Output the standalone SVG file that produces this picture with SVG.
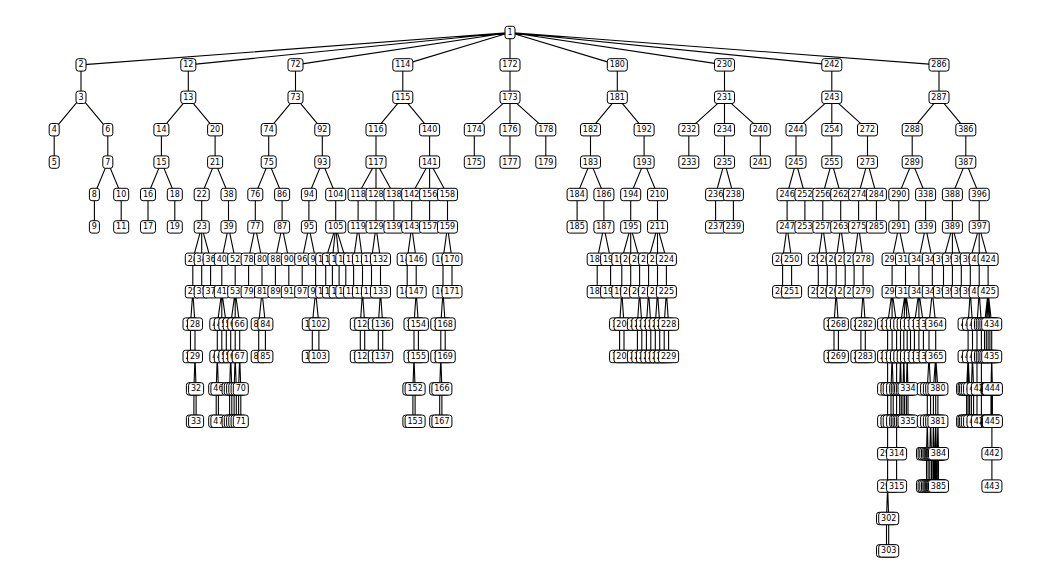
<svg xmlns="http://www.w3.org/2000/svg" width="1046" height="585" viewBox="0 0 1046 585">
<style>
.bx{fill:#fff;stroke:#000;stroke-width:1}
text{font-family:"DejaVu Sans","Liberation Sans",sans-serif;font-size:8px;text-anchor:middle;dominant-baseline:central;fill:#000}
#edges path{fill:none;stroke:#000;stroke-width:1.1}
</style>
<defs>
<rect id="a" class="bx" x="-5" y="-6.2" width="10" height="12.4" rx="2.5"/>
<rect id="b" class="bx" x="-7.5" y="-6.2" width="15" height="12.4" rx="2.5"/>
<rect id="c" class="bx" x="-10" y="-6.2" width="20" height="12.4" rx="2.5"/>
</defs>
<rect width="1046" height="585" fill="#fff"/>
<g id="edges">
<path d="M510 32.5L81 64.9M510 32.5L188.3 64.9M510 32.5L295.5 64.9M510 32.5L402.8 64.9M510 32.5L510 64.9M510 32.5L617.3 64.9M510 32.5L724.5 64.9M510 32.5L831.8 64.9M510 32.5L939 64.9
M81 64.9V97.3M188.3 64.9V97.3M295.5 64.9V97.3M402.8 64.9V97.3M510 64.9V97.3M617.3 64.9V97.3M724.5 64.9V97.3M831.8 64.9V97.3M939 64.9V97.3
M54.2 129.7V162.1M107.8 129.7V162.1M161.4 129.7V162.1M215.1 129.7V162.1M268.7 129.7V162.1M322.3 129.7V162.1M376 129.7V162.1M429.6 129.7V162.1M474.3 129.7V162.1M510 129.7V162.1M545.8 129.7V162.1M590.5 129.7V162.1M644.1 129.7V162.1M688.8 129.7V162.1M724.5 129.7V162.1M760.3 129.7V162.1M796 129.7V162.1M831.8 129.7V162.1M867.5 129.7V162.1M912.2 129.7V162.1M965.8 129.7V162.1
M94.4 194.5V226.9M121.2 194.5V226.9M148 194.5V226.9M174.8 194.5V226.9M201.7 194.5V226.9M228.5 194.5V226.9M255.3 194.5V226.9M282.1 194.5V226.9M308.9 194.5V226.9M335.7 194.5V226.9M358.1 194.5V226.9M376 194.5V226.9M393.9 194.5V226.9M411.7 194.5V226.9M429.6 194.5V226.9M447.5 194.5V226.9M577.1 194.5V226.9M603.9 194.5V226.9M630.7 194.5V226.9M657.5 194.5V226.9M715.6 194.5V226.9M733.4 194.5V226.9M787.1 194.5V226.9M804.9 194.5V226.9M822.8 194.5V226.9M840.7 194.5V226.9M858.6 194.5V226.9M876.4 194.5V226.9M898.8 194.5V226.9M925.6 194.5V226.9M952.4 194.5V226.9M979.2 194.5V226.9
M192.8 259.3V291.7M201.7 259.3V291.7M210.6 259.3V291.7M221.8 259.3V291.7M235.2 259.3V291.7M248.6 259.3V291.7M262 259.3V291.7M275.4 259.3V291.7M288.8 259.3V291.7M302.2 259.3V291.7M315.6 259.3V291.7M325.7 259.3V291.7M332.4 259.3V291.7M339.1 259.3V291.7M345.8 259.3V291.7M353.6 259.3V291.7M362.5 259.3V291.7M371.5 259.3V291.7M380.5 259.3V291.7M407.2 259.3V291.7M416.2 259.3V291.7M443 259.3V291.7M452 259.3V291.7M597.2 259.3V291.7M610.6 259.3V291.7M621.8 259.3V291.7M630.7 259.3V291.7M639.6 259.3V291.7M648.6 259.3V291.7M657.5 259.3V291.7M666.4 259.3V291.7M782.6 259.3V291.7M791.6 259.3V291.7M818.3 259.3V291.7M827.3 259.3V291.7M836.2 259.3V291.7M845.2 259.3V291.7M854.1 259.3V291.7M863.1 259.3V291.7M892.1 259.3V291.7M905.5 259.3V291.7M918.9 259.3V291.7M932.3 259.3V291.7M943.5 259.3V291.7M952.4 259.3V291.7M961.3 259.3V291.7M970.3 259.3V291.7M979.2 259.3V291.7M988.1 259.3V291.7
M190.5 324.1V356.5M195 324.1V356.5M217.3 324.1V356.5M221.8 324.1V356.5M226.3 324.1V356.5M230.7 324.1V356.5M235.2 324.1V356.5M239.7 324.1V356.5M258.7 324.1V356.5M265.4 324.1V356.5M312.3 324.1V356.5M318.9 324.1V356.5M360.3 324.1V356.5M364.7 324.1V356.5M378.3 324.1V356.5M382.7 324.1V356.5M414 324.1V356.5M418.4 324.1V356.5M440.8 324.1V356.5M445.2 324.1V356.5M619.6 324.1V356.5M624 324.1V356.5M637.4 324.1V356.5M641.8 324.1V356.5M646.4 324.1V356.5M650.8 324.1V356.5M655.3 324.1V356.5M659.7 324.1V356.5M664.2 324.1V356.5M668.6 324.1V356.5M834 324.1V356.5M838.4 324.1V356.5M860.9 324.1V356.5M865.3 324.1V356.5M887.6 324.1V356.5M892.1 324.1V356.5M896.6 324.1V356.5M900.5 324.1V356.5M903.8 324.1V356.5M907.2 324.1V356.5M910.5 324.1V356.5M914.4 324.1V356.5M918.9 324.1V356.5M923.4 324.1V356.5M929 324.1V356.5M935.7 324.1V356.5M968.1 324.1V356.5M972.5 324.1V356.5M977 324.1V356.5M981.4 324.1V356.5M984.5 324.1V356.5M986.3 324.1V356.5M988.1 324.1V356.5M989.9 324.1V356.5M991.7 324.1V356.5
M193.9 388.9V421.3M196.1 388.9V421.3M216.2 388.9V421.3M218.4 388.9V421.3M229.6 388.9V421.3M231.8 388.9V421.3M234.1 388.9V421.3M236.3 388.9V421.3M238.6 388.9V421.3M240.8 388.9V421.3M412.9 388.9V421.3M415.1 388.9V421.3M439.7 388.9V421.3M441.9 388.9V421.3M887.6 388.9V421.3M891 388.9V421.3M893.2 388.9V421.3M896.6 388.9V421.3M899.7 388.9V421.3M901.3 388.9V421.3M903 388.9V421.3M904.6 388.9V421.3M906.4 388.9V421.3M908 388.9V421.3M927.3 388.9V421.3M930.6 388.9V421.3M933.4 388.9V421.3M935.7 388.9V421.3M937.9 388.9V421.3M966.6 388.9V421.3M968.1 388.9V421.3M969.6 388.9V421.3M971.4 388.9V421.3M973.6 388.9V421.3M977 388.9V421.3M981.4 388.9V421.3M991 388.9V421.3M991.5 388.9V421.3M991.9 388.9V421.3M992.4 388.9V421.3
M887.6 453.7V486.1M896.6 453.7V486.1M926.5 453.7V486.1M928.1 453.7V486.1M929.8 453.7V486.1M931.5 453.7V486.1M932.9 453.7V486.1M934 453.7V486.1M934.9 453.7V486.1M935.7 453.7V486.1M936.4 453.7V486.1M937.3 453.7V486.1M938.5 453.7V486.1M991.9 453.7V486.1
M886.5 518.5V550.9M888.7 518.5V550.9
M81 97.3L54.2 129.7M81 97.3L107.8 129.7M107.8 162.1L94.4 194.5M107.8 162.1L121.2 194.5
M188.3 97.3L161.4 129.7M188.3 97.3L215.1 129.7M161.4 162.1L148 194.5M161.4 162.1L174.8 194.5M215.1 162.1L201.7 194.5M215.1 162.1L228.5 194.5
M201.7 226.9L192.8 259.3M201.7 226.9L201.7 259.3M201.7 226.9L210.6 259.3M192.8 291.7L190.5 324.1M192.8 291.7L195 324.1M195 356.5L193.9 388.9M195 356.5L196.1 388.9
M228.5 226.9L221.8 259.3M228.5 226.9L235.2 259.3M221.8 291.7L217.3 324.1M221.8 291.7L221.8 324.1M221.8 291.7L226.3 324.1M217.3 356.5L216.2 388.9M217.3 356.5L218.4 388.9
M235.2 291.7L230.7 324.1M235.2 291.7L235.2 324.1M235.2 291.7L239.7 324.1M230.7 356.5L229.6 388.9M230.7 356.5L231.8 388.9M235.2 356.5L234.1 388.9M235.2 356.5L236.3 388.9M239.7 356.5L238.6 388.9M239.7 356.5L240.8 388.9
M295.5 97.3L268.7 129.7M295.5 97.3L322.3 129.7M268.7 162.1L255.3 194.5M268.7 162.1L282.1 194.5M255.3 226.9L248.6 259.3M255.3 226.9L262 259.3M262 291.7L258.7 324.1M262 291.7L265.4 324.1M282.1 226.9L275.4 259.3M282.1 226.9L288.8 259.3
M322.3 162.1L308.9 194.5M322.3 162.1L335.7 194.5M308.9 226.9L302.2 259.3M308.9 226.9L315.6 259.3M315.6 291.7L312.3 324.1M315.6 291.7L318.9 324.1M335.7 226.9L325.7 259.3M335.7 226.9L332.4 259.3M335.7 226.9L339.1 259.3M335.7 226.9L345.8 259.3
M402.8 97.3L376 129.7M402.8 97.3L429.6 129.7M376 162.1L358.1 194.5M376 162.1L376 194.5M376 162.1L393.9 194.5M358.1 226.9L353.6 259.3M358.1 226.9L362.5 259.3M362.5 291.7L360.3 324.1M362.5 291.7L364.7 324.1M376 226.9L371.5 259.3M376 226.9L380.5 259.3M380.5 291.7L378.3 324.1M380.5 291.7L382.7 324.1
M429.6 162.1L411.7 194.5M429.6 162.1L429.6 194.5M429.6 162.1L447.5 194.5M411.7 226.9L407.2 259.3M411.7 226.9L416.2 259.3M416.2 291.7L414 324.1M416.2 291.7L418.4 324.1M414 356.5L412.9 388.9M414 356.5L415.1 388.9M447.5 226.9L443 259.3M447.5 226.9L452 259.3M443 291.7L440.8 324.1M443 291.7L445.2 324.1M440.8 356.5L439.7 388.9M440.8 356.5L441.9 388.9
M510 97.3L474.3 129.7M510 97.3L510 129.7M510 97.3L545.8 129.7
M617.3 97.3L590.5 129.7M617.3 97.3L644.1 129.7M590.5 162.1L577.1 194.5M590.5 162.1L603.9 194.5M603.9 226.9L597.2 259.3M603.9 226.9L610.6 259.3M644.1 162.1L630.7 194.5M644.1 162.1L657.5 194.5
M630.7 226.9L621.8 259.3M630.7 226.9L630.7 259.3M630.7 226.9L639.6 259.3M621.8 291.7L619.6 324.1M621.8 291.7L624 324.1M639.6 291.7L637.4 324.1M639.6 291.7L641.8 324.1
M657.5 226.9L648.6 259.3M657.5 226.9L657.5 259.3M657.5 226.9L666.4 259.3M648.6 291.7L646.4 324.1M648.6 291.7L650.8 324.1M657.5 291.7L655.3 324.1M657.5 291.7L659.7 324.1M666.4 291.7L664.2 324.1M666.4 291.7L668.6 324.1
M724.5 97.3L688.8 129.7M724.5 97.3L724.5 129.7M724.5 97.3L760.3 129.7M724.5 162.1L715.6 194.5M724.5 162.1L733.4 194.5
M831.8 97.3L796 129.7M831.8 97.3L831.8 129.7M831.8 97.3L867.5 129.7M796 162.1L787.1 194.5M796 162.1L804.9 194.5M787.1 226.9L782.6 259.3M787.1 226.9L791.6 259.3M831.8 162.1L822.8 194.5M831.8 162.1L840.7 194.5M822.8 226.9L818.3 259.3M822.8 226.9L827.3 259.3M840.7 226.9L836.2 259.3M840.7 226.9L845.2 259.3M836.2 291.7L834 324.1M836.2 291.7L838.4 324.1M867.5 162.1L858.6 194.5M867.5 162.1L876.4 194.5M858.6 226.9L854.1 259.3M858.6 226.9L863.1 259.3M863.1 291.7L860.9 324.1M863.1 291.7L865.3 324.1
M939 97.3L912.2 129.7M939 97.3L965.8 129.7M912.2 162.1L898.8 194.5M912.2 162.1L925.6 194.5M898.8 226.9L892.1 259.3M898.8 226.9L905.5 259.3
M892.1 291.7L887.6 324.1M892.1 291.7L892.1 324.1M892.1 291.7L896.6 324.1M887.6 356.5V388.9M887.6 421.3V453.7M887.6 486.1L886.5 518.5M887.6 486.1L888.7 518.5M892.1 356.5L891 388.9M892.1 356.5L893.2 388.9M896.6 356.5V388.9M896.6 421.3V453.7
M905.5 291.7L900.5 324.1M905.5 291.7L903.8 324.1M905.5 291.7L907.2 324.1M905.5 291.7L910.5 324.1M900.5 356.5L899.7 388.9M900.5 356.5L901.3 388.9M903.8 356.5L903 388.9M903.8 356.5L904.6 388.9M907.2 356.5L906.4 388.9M907.2 356.5L908 388.9
M925.6 226.9L918.9 259.3M925.6 226.9L932.3 259.3M918.9 291.7L914.4 324.1M918.9 291.7L918.9 324.1M918.9 291.7L923.4 324.1M932.3 291.7L929 324.1M932.3 291.7L935.7 324.1M929 356.5L927.3 388.9M929 356.5L930.6 388.9M927.3 421.3L926.5 453.7M927.3 421.3L928.1 453.7M930.6 421.3L929.8 453.7M930.6 421.3L931.5 453.7
M935.7 356.5L933.4 388.9M935.7 356.5L935.7 388.9M935.7 356.5L937.9 388.9M933.4 421.3L932.9 453.7M933.4 421.3L934 453.7M935.7 421.3L934.9 453.7M935.7 421.3L935.7 453.7M935.7 421.3L936.4 453.7M937.9 421.3L937.3 453.7M937.9 421.3L938.5 453.7
M965.8 162.1L952.4 194.5M965.8 162.1L979.2 194.5M952.4 226.9L943.5 259.3M952.4 226.9L952.4 259.3M952.4 226.9L961.3 259.3M979.2 226.9L970.3 259.3M979.2 226.9L979.2 259.3M979.2 226.9L988.1 259.3
M970.3 291.7L968.1 324.1M970.3 291.7L972.5 324.1M968.1 356.5L966.6 388.9M968.1 356.5L968.1 388.9M968.1 356.5L969.6 388.9M972.5 356.5L971.4 388.9M972.5 356.5L973.6 388.9
M979.2 291.7L977 324.1M979.2 291.7L981.4 324.1M977 356.5V388.9M981.4 356.5V388.9
M988.1 291.7L984.5 324.1M988.1 291.7L986.3 324.1M988.1 291.7L988.1 324.1M988.1 291.7L989.9 324.1M988.1 291.7L991.7 324.1M991.7 356.5L991 388.9M991.7 356.5L991.5 388.9M991.7 356.5L991.9 388.9M991.7 356.5L992.4 388.9M991.9 421.3V453.7"/>
</g>
<g id="n1" transform="translate(510 32.5)"><use href="#a"/><text>1</text></g>
<g id="n2" transform="translate(81 64.9)"><use href="#a"/><text>2</text></g>
<g id="n3" transform="translate(81 97.3)"><use href="#a"/><text>3</text></g>
<g id="n4" transform="translate(54.2 129.7)"><use href="#a"/><text>4</text></g>
<g id="n5" transform="translate(54.2 162.1)"><use href="#a"/><text>5</text></g>
<g id="n6" transform="translate(107.8 129.7)"><use href="#a"/><text>6</text></g>
<g id="n7" transform="translate(107.8 162.1)"><use href="#a"/><text>7</text></g>
<g id="n8" transform="translate(94.4 194.5)"><use href="#a"/><text>8</text></g>
<g id="n9" transform="translate(94.4 226.9)"><use href="#a"/><text>9</text></g>
<g id="n10" transform="translate(121.2 194.5)"><use href="#b"/><text>10</text></g>
<g id="n11" transform="translate(121.2 226.9)"><use href="#b"/><text>11</text></g>
<g id="n12" transform="translate(188.3 64.9)"><use href="#b"/><text>12</text></g>
<g id="n13" transform="translate(188.3 97.3)"><use href="#b"/><text>13</text></g>
<g id="n14" transform="translate(161.4 129.7)"><use href="#b"/><text>14</text></g>
<g id="n15" transform="translate(161.4 162.1)"><use href="#b"/><text>15</text></g>
<g id="n16" transform="translate(148 194.5)"><use href="#b"/><text>16</text></g>
<g id="n17" transform="translate(148 226.9)"><use href="#b"/><text>17</text></g>
<g id="n18" transform="translate(174.8 194.5)"><use href="#b"/><text>18</text></g>
<g id="n19" transform="translate(174.8 226.9)"><use href="#b"/><text>19</text></g>
<g id="n20" transform="translate(215.1 129.7)"><use href="#b"/><text>20</text></g>
<g id="n21" transform="translate(215.1 162.1)"><use href="#b"/><text>21</text></g>
<g id="n22" transform="translate(201.7 194.5)"><use href="#b"/><text>22</text></g>
<g id="n23" transform="translate(201.7 226.9)"><use href="#b"/><text>23</text></g>
<g id="n24" transform="translate(192.8 259.3)"><use href="#b"/><text>24</text></g>
<g id="n25" transform="translate(192.8 291.7)"><use href="#b"/><text>25</text></g>
<g id="n26" transform="translate(190.5 324.1)"><use href="#b"/><text>26</text></g>
<g id="n27" transform="translate(190.5 356.5)"><use href="#b"/><text>27</text></g>
<g id="n28" transform="translate(195 324.1)"><use href="#b"/><text>28</text></g>
<g id="n29" transform="translate(195 356.5)"><use href="#b"/><text>29</text></g>
<g id="n30" transform="translate(193.9 388.9)"><use href="#b"/><text>30</text></g>
<g id="n31" transform="translate(193.9 421.3)"><use href="#b"/><text>31</text></g>
<g id="n32" transform="translate(196.1 388.9)"><use href="#b"/><text>32</text></g>
<g id="n33" transform="translate(196.1 421.3)"><use href="#b"/><text>33</text></g>
<g id="n34" transform="translate(201.7 259.3)"><use href="#b"/><text>34</text></g>
<g id="n35" transform="translate(201.7 291.7)"><use href="#b"/><text>35</text></g>
<g id="n36" transform="translate(210.6 259.3)"><use href="#b"/><text>36</text></g>
<g id="n37" transform="translate(210.6 291.7)"><use href="#b"/><text>37</text></g>
<g id="n38" transform="translate(228.5 194.5)"><use href="#b"/><text>38</text></g>
<g id="n39" transform="translate(228.5 226.9)"><use href="#b"/><text>39</text></g>
<g id="n40" transform="translate(221.8 259.3)"><use href="#b"/><text>40</text></g>
<g id="n41" transform="translate(221.8 291.7)"><use href="#b"/><text>41</text></g>
<g id="n42" transform="translate(217.3 324.1)"><use href="#b"/><text>42</text></g>
<g id="n43" transform="translate(217.3 356.5)"><use href="#b"/><text>43</text></g>
<g id="n44" transform="translate(216.2 388.9)"><use href="#b"/><text>44</text></g>
<g id="n45" transform="translate(216.2 421.3)"><use href="#b"/><text>45</text></g>
<g id="n46" transform="translate(218.4 388.9)"><use href="#b"/><text>46</text></g>
<g id="n47" transform="translate(218.4 421.3)"><use href="#b"/><text>47</text></g>
<g id="n48" transform="translate(221.8 324.1)"><use href="#b"/><text>48</text></g>
<g id="n49" transform="translate(221.8 356.5)"><use href="#b"/><text>49</text></g>
<g id="n50" transform="translate(226.3 324.1)"><use href="#b"/><text>50</text></g>
<g id="n51" transform="translate(226.3 356.5)"><use href="#b"/><text>51</text></g>
<g id="n52" transform="translate(235.2 259.3)"><use href="#b"/><text>52</text></g>
<g id="n53" transform="translate(235.2 291.7)"><use href="#b"/><text>53</text></g>
<g id="n54" transform="translate(230.7 324.1)"><use href="#b"/><text>54</text></g>
<g id="n55" transform="translate(230.7 356.5)"><use href="#b"/><text>55</text></g>
<g id="n56" transform="translate(229.6 388.9)"><use href="#b"/><text>56</text></g>
<g id="n57" transform="translate(229.6 421.3)"><use href="#b"/><text>57</text></g>
<g id="n58" transform="translate(231.8 388.9)"><use href="#b"/><text>58</text></g>
<g id="n59" transform="translate(231.8 421.3)"><use href="#b"/><text>59</text></g>
<g id="n60" transform="translate(235.2 324.1)"><use href="#b"/><text>60</text></g>
<g id="n61" transform="translate(235.2 356.5)"><use href="#b"/><text>61</text></g>
<g id="n62" transform="translate(234.1 388.9)"><use href="#b"/><text>62</text></g>
<g id="n63" transform="translate(234.1 421.3)"><use href="#b"/><text>63</text></g>
<g id="n64" transform="translate(236.3 388.9)"><use href="#b"/><text>64</text></g>
<g id="n65" transform="translate(236.3 421.3)"><use href="#b"/><text>65</text></g>
<g id="n66" transform="translate(239.7 324.1)"><use href="#b"/><text>66</text></g>
<g id="n67" transform="translate(239.7 356.5)"><use href="#b"/><text>67</text></g>
<g id="n68" transform="translate(238.6 388.9)"><use href="#b"/><text>68</text></g>
<g id="n69" transform="translate(238.6 421.3)"><use href="#b"/><text>69</text></g>
<g id="n70" transform="translate(240.8 388.9)"><use href="#b"/><text>70</text></g>
<g id="n71" transform="translate(240.8 421.3)"><use href="#b"/><text>71</text></g>
<g id="n72" transform="translate(295.5 64.9)"><use href="#b"/><text>72</text></g>
<g id="n73" transform="translate(295.5 97.3)"><use href="#b"/><text>73</text></g>
<g id="n74" transform="translate(268.7 129.7)"><use href="#b"/><text>74</text></g>
<g id="n75" transform="translate(268.7 162.1)"><use href="#b"/><text>75</text></g>
<g id="n76" transform="translate(255.3 194.5)"><use href="#b"/><text>76</text></g>
<g id="n77" transform="translate(255.3 226.9)"><use href="#b"/><text>77</text></g>
<g id="n78" transform="translate(248.6 259.3)"><use href="#b"/><text>78</text></g>
<g id="n79" transform="translate(248.6 291.7)"><use href="#b"/><text>79</text></g>
<g id="n80" transform="translate(262 259.3)"><use href="#b"/><text>80</text></g>
<g id="n81" transform="translate(262 291.7)"><use href="#b"/><text>81</text></g>
<g id="n82" transform="translate(258.7 324.1)"><use href="#b"/><text>82</text></g>
<g id="n83" transform="translate(258.7 356.5)"><use href="#b"/><text>83</text></g>
<g id="n84" transform="translate(265.4 324.1)"><use href="#b"/><text>84</text></g>
<g id="n85" transform="translate(265.4 356.5)"><use href="#b"/><text>85</text></g>
<g id="n86" transform="translate(282.1 194.5)"><use href="#b"/><text>86</text></g>
<g id="n87" transform="translate(282.1 226.9)"><use href="#b"/><text>87</text></g>
<g id="n88" transform="translate(275.4 259.3)"><use href="#b"/><text>88</text></g>
<g id="n89" transform="translate(275.4 291.7)"><use href="#b"/><text>89</text></g>
<g id="n90" transform="translate(288.8 259.3)"><use href="#b"/><text>90</text></g>
<g id="n91" transform="translate(288.8 291.7)"><use href="#b"/><text>91</text></g>
<g id="n92" transform="translate(322.3 129.7)"><use href="#b"/><text>92</text></g>
<g id="n93" transform="translate(322.3 162.1)"><use href="#b"/><text>93</text></g>
<g id="n94" transform="translate(308.9 194.5)"><use href="#b"/><text>94</text></g>
<g id="n95" transform="translate(308.9 226.9)"><use href="#b"/><text>95</text></g>
<g id="n96" transform="translate(302.2 259.3)"><use href="#b"/><text>96</text></g>
<g id="n97" transform="translate(302.2 291.7)"><use href="#b"/><text>97</text></g>
<g id="n98" transform="translate(315.6 259.3)"><use href="#b"/><text>98</text></g>
<g id="n99" transform="translate(315.6 291.7)"><use href="#b"/><text>99</text></g>
<g id="n100" transform="translate(312.3 324.1)"><use href="#c"/><text>100</text></g>
<g id="n101" transform="translate(312.3 356.5)"><use href="#c"/><text>101</text></g>
<g id="n102" transform="translate(318.9 324.1)"><use href="#c"/><text>102</text></g>
<g id="n103" transform="translate(318.9 356.5)"><use href="#c"/><text>103</text></g>
<g id="n104" transform="translate(335.7 194.5)"><use href="#c"/><text>104</text></g>
<g id="n105" transform="translate(335.7 226.9)"><use href="#c"/><text>105</text></g>
<g id="n106" transform="translate(325.7 259.3)"><use href="#c"/><text>106</text></g>
<g id="n107" transform="translate(325.7 291.7)"><use href="#c"/><text>107</text></g>
<g id="n108" transform="translate(332.4 259.3)"><use href="#c"/><text>108</text></g>
<g id="n109" transform="translate(332.4 291.7)"><use href="#c"/><text>109</text></g>
<g id="n110" transform="translate(339.1 259.3)"><use href="#c"/><text>110</text></g>
<g id="n111" transform="translate(339.1 291.7)"><use href="#c"/><text>111</text></g>
<g id="n112" transform="translate(345.8 259.3)"><use href="#c"/><text>112</text></g>
<g id="n113" transform="translate(345.8 291.7)"><use href="#c"/><text>113</text></g>
<g id="n114" transform="translate(402.8 64.9)"><use href="#c"/><text>114</text></g>
<g id="n115" transform="translate(402.8 97.3)"><use href="#c"/><text>115</text></g>
<g id="n116" transform="translate(376 129.7)"><use href="#c"/><text>116</text></g>
<g id="n117" transform="translate(376 162.1)"><use href="#c"/><text>117</text></g>
<g id="n118" transform="translate(358.1 194.5)"><use href="#c"/><text>118</text></g>
<g id="n119" transform="translate(358.1 226.9)"><use href="#c"/><text>119</text></g>
<g id="n120" transform="translate(353.6 259.3)"><use href="#c"/><text>120</text></g>
<g id="n121" transform="translate(353.6 291.7)"><use href="#c"/><text>121</text></g>
<g id="n122" transform="translate(362.5 259.3)"><use href="#c"/><text>122</text></g>
<g id="n123" transform="translate(362.5 291.7)"><use href="#c"/><text>123</text></g>
<g id="n124" transform="translate(360.3 324.1)"><use href="#c"/><text>124</text></g>
<g id="n125" transform="translate(360.3 356.5)"><use href="#c"/><text>125</text></g>
<g id="n126" transform="translate(364.7 324.1)"><use href="#c"/><text>126</text></g>
<g id="n127" transform="translate(364.7 356.5)"><use href="#c"/><text>127</text></g>
<g id="n128" transform="translate(376 194.5)"><use href="#c"/><text>128</text></g>
<g id="n129" transform="translate(376 226.9)"><use href="#c"/><text>129</text></g>
<g id="n130" transform="translate(371.5 259.3)"><use href="#c"/><text>130</text></g>
<g id="n131" transform="translate(371.5 291.7)"><use href="#c"/><text>131</text></g>
<g id="n132" transform="translate(380.5 259.3)"><use href="#c"/><text>132</text></g>
<g id="n133" transform="translate(380.5 291.7)"><use href="#c"/><text>133</text></g>
<g id="n134" transform="translate(378.3 324.1)"><use href="#c"/><text>134</text></g>
<g id="n135" transform="translate(378.3 356.5)"><use href="#c"/><text>135</text></g>
<g id="n136" transform="translate(382.7 324.1)"><use href="#c"/><text>136</text></g>
<g id="n137" transform="translate(382.7 356.5)"><use href="#c"/><text>137</text></g>
<g id="n138" transform="translate(393.9 194.5)"><use href="#c"/><text>138</text></g>
<g id="n139" transform="translate(393.9 226.9)"><use href="#c"/><text>139</text></g>
<g id="n140" transform="translate(429.6 129.7)"><use href="#c"/><text>140</text></g>
<g id="n141" transform="translate(429.6 162.1)"><use href="#c"/><text>141</text></g>
<g id="n142" transform="translate(411.7 194.5)"><use href="#c"/><text>142</text></g>
<g id="n143" transform="translate(411.7 226.9)"><use href="#c"/><text>143</text></g>
<g id="n144" transform="translate(407.2 259.3)"><use href="#c"/><text>144</text></g>
<g id="n145" transform="translate(407.2 291.7)"><use href="#c"/><text>145</text></g>
<g id="n146" transform="translate(416.2 259.3)"><use href="#c"/><text>146</text></g>
<g id="n147" transform="translate(416.2 291.7)"><use href="#c"/><text>147</text></g>
<g id="n148" transform="translate(414 324.1)"><use href="#c"/><text>148</text></g>
<g id="n149" transform="translate(414 356.5)"><use href="#c"/><text>149</text></g>
<g id="n150" transform="translate(412.9 388.9)"><use href="#c"/><text>150</text></g>
<g id="n151" transform="translate(412.9 421.3)"><use href="#c"/><text>151</text></g>
<g id="n152" transform="translate(415.1 388.9)"><use href="#c"/><text>152</text></g>
<g id="n153" transform="translate(415.1 421.3)"><use href="#c"/><text>153</text></g>
<g id="n154" transform="translate(418.4 324.1)"><use href="#c"/><text>154</text></g>
<g id="n155" transform="translate(418.4 356.5)"><use href="#c"/><text>155</text></g>
<g id="n156" transform="translate(429.6 194.5)"><use href="#c"/><text>156</text></g>
<g id="n157" transform="translate(429.6 226.9)"><use href="#c"/><text>157</text></g>
<g id="n158" transform="translate(447.5 194.5)"><use href="#c"/><text>158</text></g>
<g id="n159" transform="translate(447.5 226.9)"><use href="#c"/><text>159</text></g>
<g id="n160" transform="translate(443 259.3)"><use href="#c"/><text>160</text></g>
<g id="n161" transform="translate(443 291.7)"><use href="#c"/><text>161</text></g>
<g id="n162" transform="translate(440.8 324.1)"><use href="#c"/><text>162</text></g>
<g id="n163" transform="translate(440.8 356.5)"><use href="#c"/><text>163</text></g>
<g id="n164" transform="translate(439.7 388.9)"><use href="#c"/><text>164</text></g>
<g id="n165" transform="translate(439.7 421.3)"><use href="#c"/><text>165</text></g>
<g id="n166" transform="translate(441.9 388.9)"><use href="#c"/><text>166</text></g>
<g id="n167" transform="translate(441.9 421.3)"><use href="#c"/><text>167</text></g>
<g id="n168" transform="translate(445.2 324.1)"><use href="#c"/><text>168</text></g>
<g id="n169" transform="translate(445.2 356.5)"><use href="#c"/><text>169</text></g>
<g id="n170" transform="translate(452 259.3)"><use href="#c"/><text>170</text></g>
<g id="n171" transform="translate(452 291.7)"><use href="#c"/><text>171</text></g>
<g id="n172" transform="translate(510 64.9)"><use href="#c"/><text>172</text></g>
<g id="n173" transform="translate(510 97.3)"><use href="#c"/><text>173</text></g>
<g id="n174" transform="translate(474.3 129.7)"><use href="#c"/><text>174</text></g>
<g id="n175" transform="translate(474.3 162.1)"><use href="#c"/><text>175</text></g>
<g id="n176" transform="translate(510 129.7)"><use href="#c"/><text>176</text></g>
<g id="n177" transform="translate(510 162.1)"><use href="#c"/><text>177</text></g>
<g id="n178" transform="translate(545.8 129.7)"><use href="#c"/><text>178</text></g>
<g id="n179" transform="translate(545.8 162.1)"><use href="#c"/><text>179</text></g>
<g id="n180" transform="translate(617.3 64.9)"><use href="#c"/><text>180</text></g>
<g id="n181" transform="translate(617.3 97.3)"><use href="#c"/><text>181</text></g>
<g id="n182" transform="translate(590.5 129.7)"><use href="#c"/><text>182</text></g>
<g id="n183" transform="translate(590.5 162.1)"><use href="#c"/><text>183</text></g>
<g id="n184" transform="translate(577.1 194.5)"><use href="#c"/><text>184</text></g>
<g id="n185" transform="translate(577.1 226.9)"><use href="#c"/><text>185</text></g>
<g id="n186" transform="translate(603.9 194.5)"><use href="#c"/><text>186</text></g>
<g id="n187" transform="translate(603.9 226.9)"><use href="#c"/><text>187</text></g>
<g id="n188" transform="translate(597.2 259.3)"><use href="#c"/><text>188</text></g>
<g id="n189" transform="translate(597.2 291.7)"><use href="#c"/><text>189</text></g>
<g id="n190" transform="translate(610.6 259.3)"><use href="#c"/><text>190</text></g>
<g id="n191" transform="translate(610.6 291.7)"><use href="#c"/><text>191</text></g>
<g id="n192" transform="translate(644.1 129.7)"><use href="#c"/><text>192</text></g>
<g id="n193" transform="translate(644.1 162.1)"><use href="#c"/><text>193</text></g>
<g id="n194" transform="translate(630.7 194.5)"><use href="#c"/><text>194</text></g>
<g id="n195" transform="translate(630.7 226.9)"><use href="#c"/><text>195</text></g>
<g id="n196" transform="translate(621.8 259.3)"><use href="#c"/><text>196</text></g>
<g id="n197" transform="translate(621.8 291.7)"><use href="#c"/><text>197</text></g>
<g id="n198" transform="translate(619.6 324.1)"><use href="#c"/><text>198</text></g>
<g id="n199" transform="translate(619.6 356.5)"><use href="#c"/><text>199</text></g>
<g id="n200" transform="translate(624 324.1)"><use href="#c"/><text>200</text></g>
<g id="n201" transform="translate(624 356.5)"><use href="#c"/><text>201</text></g>
<g id="n202" transform="translate(630.7 259.3)"><use href="#c"/><text>202</text></g>
<g id="n203" transform="translate(630.7 291.7)"><use href="#c"/><text>203</text></g>
<g id="n204" transform="translate(639.6 259.3)"><use href="#c"/><text>204</text></g>
<g id="n205" transform="translate(639.6 291.7)"><use href="#c"/><text>205</text></g>
<g id="n206" transform="translate(637.4 324.1)"><use href="#c"/><text>206</text></g>
<g id="n207" transform="translate(637.4 356.5)"><use href="#c"/><text>207</text></g>
<g id="n208" transform="translate(641.8 324.1)"><use href="#c"/><text>208</text></g>
<g id="n209" transform="translate(641.8 356.5)"><use href="#c"/><text>209</text></g>
<g id="n210" transform="translate(657.5 194.5)"><use href="#c"/><text>210</text></g>
<g id="n211" transform="translate(657.5 226.9)"><use href="#c"/><text>211</text></g>
<g id="n212" transform="translate(648.6 259.3)"><use href="#c"/><text>212</text></g>
<g id="n213" transform="translate(648.6 291.7)"><use href="#c"/><text>213</text></g>
<g id="n214" transform="translate(646.4 324.1)"><use href="#c"/><text>214</text></g>
<g id="n215" transform="translate(646.4 356.5)"><use href="#c"/><text>215</text></g>
<g id="n216" transform="translate(650.8 324.1)"><use href="#c"/><text>216</text></g>
<g id="n217" transform="translate(650.8 356.5)"><use href="#c"/><text>217</text></g>
<g id="n218" transform="translate(657.5 259.3)"><use href="#c"/><text>218</text></g>
<g id="n219" transform="translate(657.5 291.7)"><use href="#c"/><text>219</text></g>
<g id="n220" transform="translate(655.3 324.1)"><use href="#c"/><text>220</text></g>
<g id="n221" transform="translate(655.3 356.5)"><use href="#c"/><text>221</text></g>
<g id="n222" transform="translate(659.7 324.1)"><use href="#c"/><text>222</text></g>
<g id="n223" transform="translate(659.7 356.5)"><use href="#c"/><text>223</text></g>
<g id="n224" transform="translate(666.4 259.3)"><use href="#c"/><text>224</text></g>
<g id="n225" transform="translate(666.4 291.7)"><use href="#c"/><text>225</text></g>
<g id="n226" transform="translate(664.2 324.1)"><use href="#c"/><text>226</text></g>
<g id="n227" transform="translate(664.2 356.5)"><use href="#c"/><text>227</text></g>
<g id="n228" transform="translate(668.6 324.1)"><use href="#c"/><text>228</text></g>
<g id="n229" transform="translate(668.6 356.5)"><use href="#c"/><text>229</text></g>
<g id="n230" transform="translate(724.5 64.9)"><use href="#c"/><text>230</text></g>
<g id="n231" transform="translate(724.5 97.3)"><use href="#c"/><text>231</text></g>
<g id="n232" transform="translate(688.8 129.7)"><use href="#c"/><text>232</text></g>
<g id="n233" transform="translate(688.8 162.1)"><use href="#c"/><text>233</text></g>
<g id="n234" transform="translate(724.5 129.7)"><use href="#c"/><text>234</text></g>
<g id="n235" transform="translate(724.5 162.1)"><use href="#c"/><text>235</text></g>
<g id="n236" transform="translate(715.6 194.5)"><use href="#c"/><text>236</text></g>
<g id="n237" transform="translate(715.6 226.9)"><use href="#c"/><text>237</text></g>
<g id="n238" transform="translate(733.4 194.5)"><use href="#c"/><text>238</text></g>
<g id="n239" transform="translate(733.4 226.9)"><use href="#c"/><text>239</text></g>
<g id="n240" transform="translate(760.3 129.7)"><use href="#c"/><text>240</text></g>
<g id="n241" transform="translate(760.3 162.1)"><use href="#c"/><text>241</text></g>
<g id="n242" transform="translate(831.8 64.9)"><use href="#c"/><text>242</text></g>
<g id="n243" transform="translate(831.8 97.3)"><use href="#c"/><text>243</text></g>
<g id="n244" transform="translate(796 129.7)"><use href="#c"/><text>244</text></g>
<g id="n245" transform="translate(796 162.1)"><use href="#c"/><text>245</text></g>
<g id="n246" transform="translate(787.1 194.5)"><use href="#c"/><text>246</text></g>
<g id="n247" transform="translate(787.1 226.9)"><use href="#c"/><text>247</text></g>
<g id="n248" transform="translate(782.6 259.3)"><use href="#c"/><text>248</text></g>
<g id="n249" transform="translate(782.6 291.7)"><use href="#c"/><text>249</text></g>
<g id="n250" transform="translate(791.6 259.3)"><use href="#c"/><text>250</text></g>
<g id="n251" transform="translate(791.6 291.7)"><use href="#c"/><text>251</text></g>
<g id="n252" transform="translate(804.9 194.5)"><use href="#c"/><text>252</text></g>
<g id="n253" transform="translate(804.9 226.9)"><use href="#c"/><text>253</text></g>
<g id="n254" transform="translate(831.8 129.7)"><use href="#c"/><text>254</text></g>
<g id="n255" transform="translate(831.8 162.1)"><use href="#c"/><text>255</text></g>
<g id="n256" transform="translate(822.8 194.5)"><use href="#c"/><text>256</text></g>
<g id="n257" transform="translate(822.8 226.9)"><use href="#c"/><text>257</text></g>
<g id="n258" transform="translate(818.3 259.3)"><use href="#c"/><text>258</text></g>
<g id="n259" transform="translate(818.3 291.7)"><use href="#c"/><text>259</text></g>
<g id="n260" transform="translate(827.3 259.3)"><use href="#c"/><text>260</text></g>
<g id="n261" transform="translate(827.3 291.7)"><use href="#c"/><text>261</text></g>
<g id="n262" transform="translate(840.7 194.5)"><use href="#c"/><text>262</text></g>
<g id="n263" transform="translate(840.7 226.9)"><use href="#c"/><text>263</text></g>
<g id="n264" transform="translate(836.2 259.3)"><use href="#c"/><text>264</text></g>
<g id="n265" transform="translate(836.2 291.7)"><use href="#c"/><text>265</text></g>
<g id="n266" transform="translate(834 324.1)"><use href="#c"/><text>266</text></g>
<g id="n267" transform="translate(834 356.5)"><use href="#c"/><text>267</text></g>
<g id="n268" transform="translate(838.4 324.1)"><use href="#c"/><text>268</text></g>
<g id="n269" transform="translate(838.4 356.5)"><use href="#c"/><text>269</text></g>
<g id="n270" transform="translate(845.2 259.3)"><use href="#c"/><text>270</text></g>
<g id="n271" transform="translate(845.2 291.7)"><use href="#c"/><text>271</text></g>
<g id="n272" transform="translate(867.5 129.7)"><use href="#c"/><text>272</text></g>
<g id="n273" transform="translate(867.5 162.1)"><use href="#c"/><text>273</text></g>
<g id="n274" transform="translate(858.6 194.5)"><use href="#c"/><text>274</text></g>
<g id="n275" transform="translate(858.6 226.9)"><use href="#c"/><text>275</text></g>
<g id="n276" transform="translate(854.1 259.3)"><use href="#c"/><text>276</text></g>
<g id="n277" transform="translate(854.1 291.7)"><use href="#c"/><text>277</text></g>
<g id="n278" transform="translate(863.1 259.3)"><use href="#c"/><text>278</text></g>
<g id="n279" transform="translate(863.1 291.7)"><use href="#c"/><text>279</text></g>
<g id="n280" transform="translate(860.9 324.1)"><use href="#c"/><text>280</text></g>
<g id="n281" transform="translate(860.9 356.5)"><use href="#c"/><text>281</text></g>
<g id="n282" transform="translate(865.3 324.1)"><use href="#c"/><text>282</text></g>
<g id="n283" transform="translate(865.3 356.5)"><use href="#c"/><text>283</text></g>
<g id="n284" transform="translate(876.4 194.5)"><use href="#c"/><text>284</text></g>
<g id="n285" transform="translate(876.4 226.9)"><use href="#c"/><text>285</text></g>
<g id="n286" transform="translate(939 64.9)"><use href="#c"/><text>286</text></g>
<g id="n287" transform="translate(939 97.3)"><use href="#c"/><text>287</text></g>
<g id="n288" transform="translate(912.2 129.7)"><use href="#c"/><text>288</text></g>
<g id="n289" transform="translate(912.2 162.1)"><use href="#c"/><text>289</text></g>
<g id="n290" transform="translate(898.8 194.5)"><use href="#c"/><text>290</text></g>
<g id="n291" transform="translate(898.8 226.9)"><use href="#c"/><text>291</text></g>
<g id="n292" transform="translate(892.1 259.3)"><use href="#c"/><text>292</text></g>
<g id="n293" transform="translate(892.1 291.7)"><use href="#c"/><text>293</text></g>
<g id="n294" transform="translate(887.6 324.1)"><use href="#c"/><text>294</text></g>
<g id="n295" transform="translate(887.6 356.5)"><use href="#c"/><text>295</text></g>
<g id="n296" transform="translate(887.6 388.9)"><use href="#c"/><text>296</text></g>
<g id="n297" transform="translate(887.6 421.3)"><use href="#c"/><text>297</text></g>
<g id="n298" transform="translate(887.6 453.7)"><use href="#c"/><text>298</text></g>
<g id="n299" transform="translate(887.6 486.1)"><use href="#c"/><text>299</text></g>
<g id="n300" transform="translate(886.5 518.5)"><use href="#c"/><text>300</text></g>
<g id="n301" transform="translate(886.5 550.9)"><use href="#c"/><text>301</text></g>
<g id="n302" transform="translate(888.7 518.5)"><use href="#c"/><text>302</text></g>
<g id="n303" transform="translate(888.7 550.9)"><use href="#c"/><text>303</text></g>
<g id="n304" transform="translate(892.1 324.1)"><use href="#c"/><text>304</text></g>
<g id="n305" transform="translate(892.1 356.5)"><use href="#c"/><text>305</text></g>
<g id="n306" transform="translate(891 388.9)"><use href="#c"/><text>306</text></g>
<g id="n307" transform="translate(891 421.3)"><use href="#c"/><text>307</text></g>
<g id="n308" transform="translate(893.2 388.9)"><use href="#c"/><text>308</text></g>
<g id="n309" transform="translate(893.2 421.3)"><use href="#c"/><text>309</text></g>
<g id="n310" transform="translate(896.6 324.1)"><use href="#c"/><text>310</text></g>
<g id="n311" transform="translate(896.6 356.5)"><use href="#c"/><text>311</text></g>
<g id="n312" transform="translate(896.6 388.9)"><use href="#c"/><text>312</text></g>
<g id="n313" transform="translate(896.6 421.3)"><use href="#c"/><text>313</text></g>
<g id="n314" transform="translate(896.6 453.7)"><use href="#c"/><text>314</text></g>
<g id="n315" transform="translate(896.6 486.1)"><use href="#c"/><text>315</text></g>
<g id="n316" transform="translate(905.5 259.3)"><use href="#c"/><text>316</text></g>
<g id="n317" transform="translate(905.5 291.7)"><use href="#c"/><text>317</text></g>
<g id="n318" transform="translate(900.5 324.1)"><use href="#c"/><text>318</text></g>
<g id="n319" transform="translate(900.5 356.5)"><use href="#c"/><text>319</text></g>
<g id="n320" transform="translate(899.7 388.9)"><use href="#c"/><text>320</text></g>
<g id="n321" transform="translate(899.7 421.3)"><use href="#c"/><text>321</text></g>
<g id="n322" transform="translate(901.3 388.9)"><use href="#c"/><text>322</text></g>
<g id="n323" transform="translate(901.3 421.3)"><use href="#c"/><text>323</text></g>
<g id="n324" transform="translate(903.8 324.1)"><use href="#c"/><text>324</text></g>
<g id="n325" transform="translate(903.8 356.5)"><use href="#c"/><text>325</text></g>
<g id="n326" transform="translate(903 388.9)"><use href="#c"/><text>326</text></g>
<g id="n327" transform="translate(903 421.3)"><use href="#c"/><text>327</text></g>
<g id="n328" transform="translate(904.6 388.9)"><use href="#c"/><text>328</text></g>
<g id="n329" transform="translate(904.6 421.3)"><use href="#c"/><text>329</text></g>
<g id="n330" transform="translate(907.2 324.1)"><use href="#c"/><text>330</text></g>
<g id="n331" transform="translate(907.2 356.5)"><use href="#c"/><text>331</text></g>
<g id="n332" transform="translate(906.4 388.9)"><use href="#c"/><text>332</text></g>
<g id="n333" transform="translate(906.4 421.3)"><use href="#c"/><text>333</text></g>
<g id="n334" transform="translate(908 388.9)"><use href="#c"/><text>334</text></g>
<g id="n335" transform="translate(908 421.3)"><use href="#c"/><text>335</text></g>
<g id="n336" transform="translate(910.5 324.1)"><use href="#c"/><text>336</text></g>
<g id="n337" transform="translate(910.5 356.5)"><use href="#c"/><text>337</text></g>
<g id="n338" transform="translate(925.6 194.5)"><use href="#c"/><text>338</text></g>
<g id="n339" transform="translate(925.6 226.9)"><use href="#c"/><text>339</text></g>
<g id="n340" transform="translate(918.9 259.3)"><use href="#c"/><text>340</text></g>
<g id="n341" transform="translate(918.9 291.7)"><use href="#c"/><text>341</text></g>
<g id="n342" transform="translate(914.4 324.1)"><use href="#c"/><text>342</text></g>
<g id="n343" transform="translate(914.4 356.5)"><use href="#c"/><text>343</text></g>
<g id="n344" transform="translate(918.9 324.1)"><use href="#c"/><text>344</text></g>
<g id="n345" transform="translate(918.9 356.5)"><use href="#c"/><text>345</text></g>
<g id="n346" transform="translate(923.4 324.1)"><use href="#c"/><text>346</text></g>
<g id="n347" transform="translate(923.4 356.5)"><use href="#c"/><text>347</text></g>
<g id="n348" transform="translate(932.3 259.3)"><use href="#c"/><text>348</text></g>
<g id="n349" transform="translate(932.3 291.7)"><use href="#c"/><text>349</text></g>
<g id="n350" transform="translate(929 324.1)"><use href="#c"/><text>350</text></g>
<g id="n351" transform="translate(929 356.5)"><use href="#c"/><text>351</text></g>
<g id="n352" transform="translate(927.3 388.9)"><use href="#c"/><text>352</text></g>
<g id="n353" transform="translate(927.3 421.3)"><use href="#c"/><text>353</text></g>
<g id="n354" transform="translate(926.5 453.7)"><use href="#c"/><text>354</text></g>
<g id="n355" transform="translate(926.5 486.1)"><use href="#c"/><text>355</text></g>
<g id="n356" transform="translate(928.1 453.7)"><use href="#c"/><text>356</text></g>
<g id="n357" transform="translate(928.1 486.1)"><use href="#c"/><text>357</text></g>
<g id="n358" transform="translate(930.6 388.9)"><use href="#c"/><text>358</text></g>
<g id="n359" transform="translate(930.6 421.3)"><use href="#c"/><text>359</text></g>
<g id="n360" transform="translate(929.8 453.7)"><use href="#c"/><text>360</text></g>
<g id="n361" transform="translate(929.8 486.1)"><use href="#c"/><text>361</text></g>
<g id="n362" transform="translate(931.5 453.7)"><use href="#c"/><text>362</text></g>
<g id="n363" transform="translate(931.5 486.1)"><use href="#c"/><text>363</text></g>
<g id="n364" transform="translate(935.7 324.1)"><use href="#c"/><text>364</text></g>
<g id="n365" transform="translate(935.7 356.5)"><use href="#c"/><text>365</text></g>
<g id="n366" transform="translate(933.4 388.9)"><use href="#c"/><text>366</text></g>
<g id="n367" transform="translate(933.4 421.3)"><use href="#c"/><text>367</text></g>
<g id="n368" transform="translate(932.9 453.7)"><use href="#c"/><text>368</text></g>
<g id="n369" transform="translate(932.9 486.1)"><use href="#c"/><text>369</text></g>
<g id="n370" transform="translate(934 453.7)"><use href="#c"/><text>370</text></g>
<g id="n371" transform="translate(934 486.1)"><use href="#c"/><text>371</text></g>
<g id="n372" transform="translate(935.7 388.9)"><use href="#c"/><text>372</text></g>
<g id="n373" transform="translate(935.7 421.3)"><use href="#c"/><text>373</text></g>
<g id="n374" transform="translate(934.9 453.7)"><use href="#c"/><text>374</text></g>
<g id="n375" transform="translate(934.9 486.1)"><use href="#c"/><text>375</text></g>
<g id="n376" transform="translate(935.7 453.7)"><use href="#c"/><text>376</text></g>
<g id="n377" transform="translate(935.7 486.1)"><use href="#c"/><text>377</text></g>
<g id="n378" transform="translate(936.4 453.7)"><use href="#c"/><text>378</text></g>
<g id="n379" transform="translate(936.4 486.1)"><use href="#c"/><text>379</text></g>
<g id="n380" transform="translate(937.9 388.9)"><use href="#c"/><text>380</text></g>
<g id="n381" transform="translate(937.9 421.3)"><use href="#c"/><text>381</text></g>
<g id="n382" transform="translate(937.3 453.7)"><use href="#c"/><text>382</text></g>
<g id="n383" transform="translate(937.3 486.1)"><use href="#c"/><text>383</text></g>
<g id="n384" transform="translate(938.5 453.7)"><use href="#c"/><text>384</text></g>
<g id="n385" transform="translate(938.5 486.1)"><use href="#c"/><text>385</text></g>
<g id="n386" transform="translate(965.8 129.7)"><use href="#c"/><text>386</text></g>
<g id="n387" transform="translate(965.8 162.1)"><use href="#c"/><text>387</text></g>
<g id="n388" transform="translate(952.4 194.5)"><use href="#c"/><text>388</text></g>
<g id="n389" transform="translate(952.4 226.9)"><use href="#c"/><text>389</text></g>
<g id="n390" transform="translate(943.5 259.3)"><use href="#c"/><text>390</text></g>
<g id="n391" transform="translate(943.5 291.7)"><use href="#c"/><text>391</text></g>
<g id="n392" transform="translate(952.4 259.3)"><use href="#c"/><text>392</text></g>
<g id="n393" transform="translate(952.4 291.7)"><use href="#c"/><text>393</text></g>
<g id="n394" transform="translate(961.3 259.3)"><use href="#c"/><text>394</text></g>
<g id="n395" transform="translate(961.3 291.7)"><use href="#c"/><text>395</text></g>
<g id="n396" transform="translate(979.2 194.5)"><use href="#c"/><text>396</text></g>
<g id="n397" transform="translate(979.2 226.9)"><use href="#c"/><text>397</text></g>
<g id="n398" transform="translate(970.3 259.3)"><use href="#c"/><text>398</text></g>
<g id="n399" transform="translate(970.3 291.7)"><use href="#c"/><text>399</text></g>
<g id="n400" transform="translate(968.1 324.1)"><use href="#c"/><text>400</text></g>
<g id="n401" transform="translate(968.1 356.5)"><use href="#c"/><text>401</text></g>
<g id="n402" transform="translate(966.6 388.9)"><use href="#c"/><text>402</text></g>
<g id="n403" transform="translate(966.6 421.3)"><use href="#c"/><text>403</text></g>
<g id="n404" transform="translate(968.1 388.9)"><use href="#c"/><text>404</text></g>
<g id="n405" transform="translate(968.1 421.3)"><use href="#c"/><text>405</text></g>
<g id="n406" transform="translate(969.6 388.9)"><use href="#c"/><text>406</text></g>
<g id="n407" transform="translate(969.6 421.3)"><use href="#c"/><text>407</text></g>
<g id="n408" transform="translate(972.5 324.1)"><use href="#c"/><text>408</text></g>
<g id="n409" transform="translate(972.5 356.5)"><use href="#c"/><text>409</text></g>
<g id="n410" transform="translate(971.4 388.9)"><use href="#c"/><text>410</text></g>
<g id="n411" transform="translate(971.4 421.3)"><use href="#c"/><text>411</text></g>
<g id="n412" transform="translate(973.6 388.9)"><use href="#c"/><text>412</text></g>
<g id="n413" transform="translate(973.6 421.3)"><use href="#c"/><text>413</text></g>
<g id="n414" transform="translate(979.2 259.3)"><use href="#c"/><text>414</text></g>
<g id="n415" transform="translate(979.2 291.7)"><use href="#c"/><text>415</text></g>
<g id="n416" transform="translate(977 324.1)"><use href="#c"/><text>416</text></g>
<g id="n417" transform="translate(977 356.5)"><use href="#c"/><text>417</text></g>
<g id="n418" transform="translate(977 388.9)"><use href="#c"/><text>418</text></g>
<g id="n419" transform="translate(977 421.3)"><use href="#c"/><text>419</text></g>
<g id="n420" transform="translate(981.4 324.1)"><use href="#c"/><text>420</text></g>
<g id="n421" transform="translate(981.4 356.5)"><use href="#c"/><text>421</text></g>
<g id="n422" transform="translate(981.4 388.9)"><use href="#c"/><text>422</text></g>
<g id="n423" transform="translate(981.4 421.3)"><use href="#c"/><text>423</text></g>
<g id="n424" transform="translate(988.1 259.3)"><use href="#c"/><text>424</text></g>
<g id="n425" transform="translate(988.1 291.7)"><use href="#c"/><text>425</text></g>
<g id="n426" transform="translate(984.5 324.1)"><use href="#c"/><text>426</text></g>
<g id="n427" transform="translate(984.5 356.5)"><use href="#c"/><text>427</text></g>
<g id="n428" transform="translate(986.3 324.1)"><use href="#c"/><text>428</text></g>
<g id="n429" transform="translate(986.3 356.5)"><use href="#c"/><text>429</text></g>
<g id="n430" transform="translate(988.1 324.1)"><use href="#c"/><text>430</text></g>
<g id="n431" transform="translate(988.1 356.5)"><use href="#c"/><text>431</text></g>
<g id="n432" transform="translate(989.9 324.1)"><use href="#c"/><text>432</text></g>
<g id="n433" transform="translate(989.9 356.5)"><use href="#c"/><text>433</text></g>
<g id="n434" transform="translate(991.7 324.1)"><use href="#c"/><text>434</text></g>
<g id="n435" transform="translate(991.7 356.5)"><use href="#c"/><text>435</text></g>
<g id="n436" transform="translate(991 388.9)"><use href="#c"/><text>436</text></g>
<g id="n437" transform="translate(991 421.3)"><use href="#c"/><text>437</text></g>
<g id="n438" transform="translate(991.5 388.9)"><use href="#c"/><text>438</text></g>
<g id="n439" transform="translate(991.5 421.3)"><use href="#c"/><text>439</text></g>
<g id="n440" transform="translate(991.9 388.9)"><use href="#c"/><text>440</text></g>
<g id="n441" transform="translate(991.9 421.3)"><use href="#c"/><text>441</text></g>
<g id="n442" transform="translate(991.9 453.7)"><use href="#c"/><text>442</text></g>
<g id="n443" transform="translate(991.9 486.1)"><use href="#c"/><text>443</text></g>
<g id="n444" transform="translate(992.4 388.9)"><use href="#c"/><text>444</text></g>
<g id="n445" transform="translate(992.4 421.3)"><use href="#c"/><text>445</text></g>
</svg>
